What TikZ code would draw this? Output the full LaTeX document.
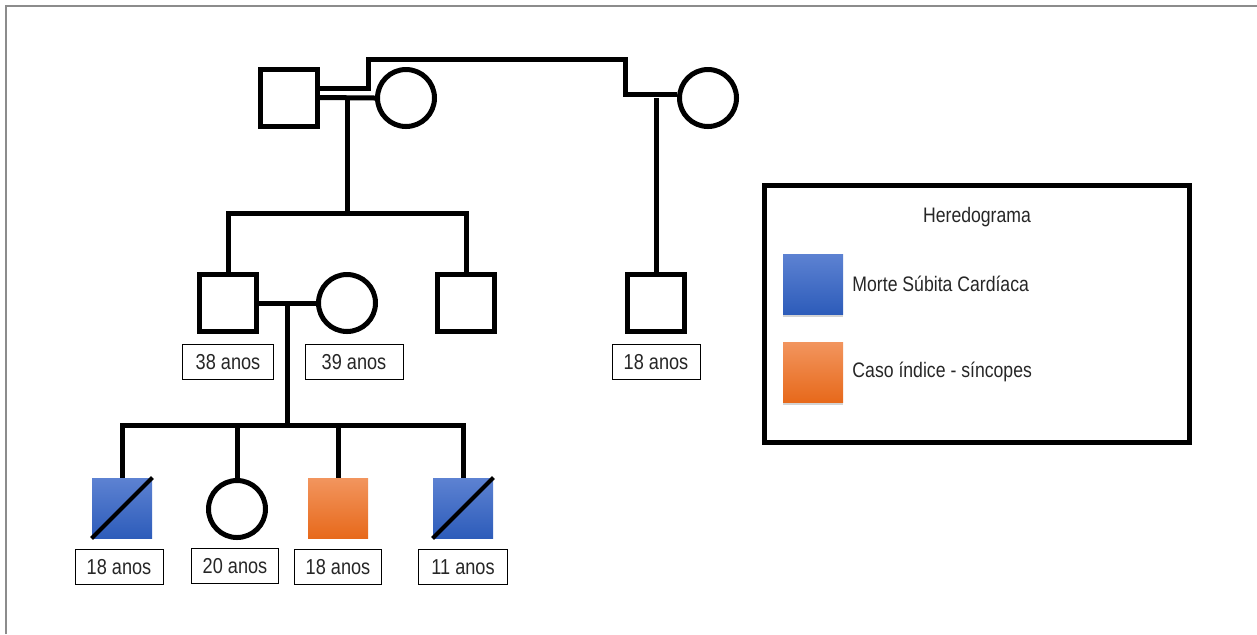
\documentclass[tikz,border=0pt]{standalone}
\usepackage{fontspec}
\setmainfont{Liberation Sans}[FakeStretch=0.84]
\usetikzlibrary{positioning, shadows, calc}

\definecolor{mscTop}{HTML}{5D82D2}
\definecolor{mscBot}{HTML}{2D5CBA}
\definecolor{idxTop}{HTML}{F2955E}
\definecolor{idxBot}{HTML}{E7691B}

\tikzset{
  male/.style={draw, line width=2.5pt, minimum size=28.5pt, inner sep=0pt},
  female/.style={circle, draw, line width=2.5pt, minimum size=28.5pt, inner sep=0pt},
  msc/.style={minimum size=30pt, inner sep=0pt, top color=mscTop, bottom color=mscBot},
  idx/.style={minimum size=30pt, inner sep=0pt, top color=idxTop, bottom color=idxBot},
  line/.style={line width=2.5pt},
  slash/.style={line width=2pt},
  agebox/.style={draw, line width=0.5pt, fill=white, minimum width=44pt, minimum height=17.5pt,
    inner sep=0pt, font=\fontsize{10.8}{12}\selectfont, text=black!85},
  legtext/.style={font=\fontsize{10.5}{12}\selectfont, text=black!85},
}

\begin{document}
\begin{tikzpicture}[x=0.5pt, y=-0.5pt]
    \useasboundingbox (0,0) rectangle (1257,634);
    % frame
    \draw[black!45, line width=1pt] (6,634) -- (6,6) -- (1257,6);

    % Generation I
    \node[male]   (gf)  at (289,97.5) {};
    \node[female] (gm1) at (406,98) {};
    \node[female] (gm2) at (708,98) {};

    % Generation II
    \node[male]   (p1) at (228,303) {};
    \node[female] (w1) at (347,303) {};
    \node[male]   (u1) at (466,303) {};
    \node[male]   (c2) at (656,303) {};

    % Generation III
    \node[msc]    (k1) at (122,508) {};
    \node[female] (k2) at (237,509) {};
    \node[idx]    (k3) at (338,508) {};
    \node[msc]    (k4) at (463,508) {};
    \draw[slash] (k1.south west) -- (k1.north east);
    \draw[slash] (k4.south west) -- (k4.north east);

    % helper coordinates
    \coordinate (top) at (625,59);
    \coordinate (s1) at (0,213);
    \coordinate (s2) at (0,425);
    \coordinate (m1) at ($(gf.east)!0.5!(gm1.west)$);
    \coordinate (m2) at ($(p1.east)!0.5!(w1.west)$);

    % unions and descent
    \draw[line] (gf.east) -- (gm1.west);
    \draw[line] ([yshift=4.5pt]gf.east) -- ++(48,0) |- (top) |- ([yshift=2pt]gm2.west);
    \draw[line] (m1) -- (m1 |- s1);
    \draw[line] (p1.north) -- (p1.north |- s1) -- (u1.north |- s1) -- (u1.north);
    \draw[line] (c2.north) -- (c2.north |- gm2.west);

    \draw[line] (p1.east) -- (w1.west);
    \draw[line] (m2) -- (m2 |- s2);
    \draw[line] (k1.north) -- (k1.north |- s2) -- (k4.north |- s2) -- (k4.north);
    \draw[line] (k2.north) -- (k2.north |- s2);
    \draw[line] (k3.north) -- (k3.north |- s2);

    % ages
    \node[agebox, below=5pt of p1, minimum width=45.5pt] (a1) {38 anos};
    \node[agebox, below=5pt of w1, xshift=3.5pt, minimum width=49pt] (a2) {39 anos};
    \node[agebox, below=5pt of c2] (a3) {18 anos};
    \node[agebox, below=5.5pt of k1, xshift=-1.5pt] (a4) {18 anos};
    \node[agebox, below=4pt of k2, xshift=-1pt, minimum width=43.5pt] (a5) {20 anos};
    \node[agebox, below=5.5pt of k3, minimum width=43.5pt] (a6) {18 anos};
    \node[agebox, below=5.5pt of k4, minimum width=44.5pt] (a7) {11 anos};

    % legend
    \node[draw, line width=2.5pt, minimum width=212.5pt, minimum height=128.5pt] (legend) at (977,314) {};
    \node[legtext] (title) at (977,217) {Heredograma};
    \node[msc, drop shadow={shadow xshift=0pt, shadow yshift=-1.5pt, opacity=0.35}] (lb) at (813,284) {};
    \node[idx, drop shadow={shadow xshift=0pt, shadow yshift=-1.5pt, opacity=0.35}] (lo) at (813,372) {};
    \node[legtext, right=1pt of lb] (lbt) {Morte Súbita Cardíaca};
    \node[legtext, right=1pt of lo] (lot) {Caso índice - síncopes};
\end{tikzpicture}
\end{document}
